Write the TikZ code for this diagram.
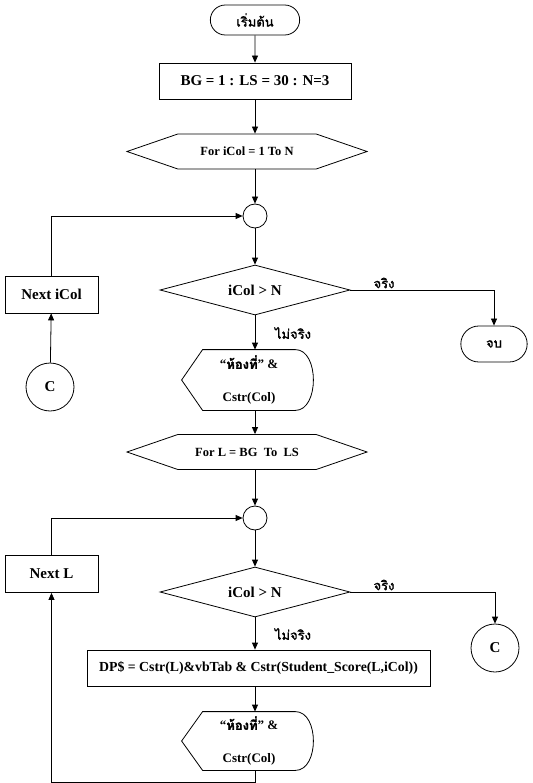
\documentclass[tikz,border=0pt]{standalone}
\usepackage{fontspec}
\setmainfont{Liberation Serif}
\newfontfamily\thai[Script=Thai, FakeBold=1.5]{Loma}
\usetikzlibrary{shapes.geometric,shapes.misc,shapes.symbols,arrows.meta}

\tikzset{
  every node/.style={font=\bfseries\fontsize{15}{18}\selectfont},
  terminal/.style={rounded rectangle, draw, minimum width=96pt, minimum height=30pt,
    font=\thai\fontsize{13}{15}\selectfont},
  process/.style={rectangle, draw, minimum height=36pt},
  loophex/.style={signal, signal to=west and east, signal pointer angle=38, draw,
    minimum width=240pt, minimum height=35pt, inner sep=0pt,
    font=\bfseries\fontsize{12.5}{14}\selectfont},
  decision/.style={diamond, draw, aspect=3.8, minimum width=190pt, minimum height=50pt, inner sep=0pt},
  junction/.style={circle, draw, minimum size=24pt, inner sep=0pt},
  connector/.style={circle, draw, minimum size=48pt, inner sep=0pt},
  showtext/.style={align=center, minimum width=92pt, minimum height=60pt, inner sep=0pt,
    font=\bfseries\fontsize{13}{16}\selectfont},
  thailabel/.style={font=\thai\fontsize{13}{15}\selectfont},
}

\begin{document}
\begin{tikzpicture}[x=1pt, y=-1pt, line width=0.8pt, >={Triangle[length=7pt,width=6pt]}]
    \useasboundingbox (0,0) rectangle (532,783);

    % outer loop over the columns
    \node[terminal] (start) at (255,20) {เริ่มต้น};
    \node[process, minimum width=192pt] (init) at (255,81) {BG = 1 : LS = 30 : N=3};
    \node[loophex] (forcol) at (247,151.5) {For iCol = 1 To N};
    \node[junction] (jcol) at (255,216) {};
    \node[decision] (testcol) at (255,290) {iCol > N};
    \node[process, minimum width=93pt, minimum height=37pt] (nextcol) at (51.5,294.5) {Next iCol};
    \node[connector] (ccol) at (50,387) {C};
    \node[terminal, minimum width=73pt, minimum height=36pt] (stop) at (494,344) {จบ};
    \node[showtext] (showcol) at (249,380) {“{\thai ห้องที่}” \&\\[17pt]Cstr(Col)};
    \node[thailabel] (yescol) at (384,283) {จริง};
    \node[thailabel] (nocol) at (293,333) {ไม่จริง};

    % inner loop over the rows
    \node[loophex] (forrow) at (247,452) {For L = BG~~To~~LS};
    \node[junction] (jrow) at (255,518) {};
    \node[decision] (testrow) at (255,592) {iCol > N};
    \node[process, minimum width=93pt, minimum height=37pt] (nextrow) at (51.5,574) {Next L};
    \node[connector] (crow) at (495,648) {C};
    \node[process, minimum width=343pt, font=\bfseries\fontsize{13.8}{16}\selectfont] (dp) at (258.5,668)
        {DP\$ = Cstr(L)\&vbTab \& Cstr(Student\_Score(L,iCol))};
    \node[showtext, minimum height=58pt] (showrow) at (249,741) {“{\thai ห้องที่}” \&\\[17pt]Cstr(Col)};
    \node[thailabel] (yesrow) at (384,585) {จริง};
    \node[thailabel] (norow) at (293,634) {ไม่จริง};
    \coordinate (back) at (51.5,782);

    % display outlines
    \foreach \d in {showcol,showrow}
        \draw (\d.north west) -- (\d.north east) .. controls +(24,0) and +(24,0) .. (\d.south east)
            -- (\d.south west) -- ([xshift=-21pt]\d.west) -- cycle;

    % connectors
    \draw[->] (start) -- (init);
    \draw[->] (init.south) -- (init.south |- forcol.north);
    \draw[->] (jcol |- forcol.south) -- (jcol);
    \draw[->] (jcol) -- (testcol);
    \draw[->] (testcol.east) -| (stop);
    \draw[->] (testcol) -- (testcol |- showcol.north);
    \draw[->] (nextcol.north) |- (jcol);
    \draw[->] (ccol) -- (nextcol);
    \draw[->] (testcol |- showcol.south) -- (testcol |- forrow.north);

    \draw[->] (jrow |- forrow.south) -- (jrow);
    \draw[->] (jrow) -- (testrow);
    \draw[->] (testrow.east) -| (crow);
    \draw[->] (testrow) -- (testrow |- dp.north);
    \draw[->] (testrow |- dp.south) -- (testrow |- showrow.north);
    \draw[->] (nextrow.north) |- (jrow);
    \draw[->] (testrow |- showrow.south) -- (testrow |- back) -- (back) -- (nextrow);
\end{tikzpicture}
\end{document}
